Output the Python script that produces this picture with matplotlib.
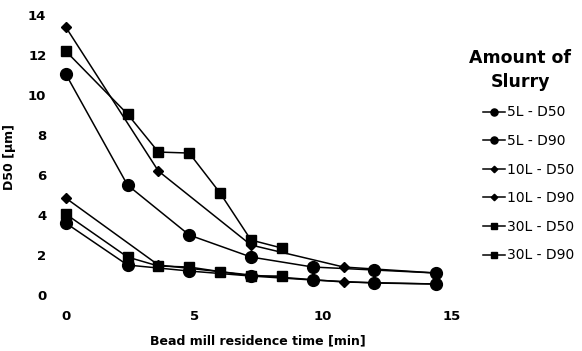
import numpy as np
import matplotlib
matplotlib.use('Agg')
import matplotlib.pyplot as plt

# residence times [min]
t_5L = [0, 2.4, 4.8, 7.2, 9.6, 12.0, 14.4]
t_10L = [0, 3.6, 7.2, 10.8, 14.4]
t_30L = [0, 2.4, 3.6, 4.8, 6.0, 7.2, 8.4]

# particle sizes [um]
d50_5L = [3.6, 1.5, 1.2, 0.95, 0.75, 0.6, 0.55]
d90_5L = [11.05, 5.5, 3.0, 1.9, 1.4, 1.25, 1.1]
d50_10L = [4.85, 1.5, 1.0, 0.65, 0.55]
d90_10L = [13.4, 6.2, 2.5, 1.4, 1.1]
d50_30L = [4.05, 1.9, 1.45, 1.4, 1.17, 0.95, 0.95]
d90_30L = [12.2, 9.05, 7.15, 7.1, 5.1, 2.75, 2.35]

series = [
    ('5L - D50', t_5L, d50_5L, 'o', 8.5),
    ('5L - D90', t_5L, d90_5L, 'o', 8.5),
    ('10L - D50', t_10L, d50_10L, 'D', 5.5),
    ('10L - D90', t_10L, d90_10L, 'D', 5.5),
    ('30L - D50', t_30L, d50_30L, 's', 7.5),
    ('30L - D90', t_30L, d90_30L, 's', 7.5),
]

fig = plt.figure(figsize=(5.82, 3.51), dpi=100)
ax = fig.add_axes([0.113, 0.1595, 0.663, 0.7975])

for name, t, d, m, ms in series:
    ax.plot(t, d, color='black', linewidth=1.1, marker=m, markersize=ms,
            label=name, clip_on=False)

ax.set_xlim(0, 15)
ax.set_ylim(0, 14)
ax.set_xticks([0, 5, 10, 15])
ax.set_yticks(np.arange(0, 15, 2))
for s in ax.spines.values():
    s.set_visible(False)
ax.tick_params(length=0, labelsize=9.5, pad=14)
ax.tick_params(axis='x', pad=11)
for lab in ax.get_xticklabels() + ax.get_yticklabels():
    lab.set_fontweight('bold')

fig.text(258 / 582, 1 - 341 / 351, 'Bead mill residence time [min]',
         fontsize=9, fontweight='bold', ha='center', va='center')
fig.text(10 / 582, 1 - 157 / 351, 'D50 [\u00b5m]', fontsize=9,
         fontweight='bold', rotation=90, ha='center', va='center')

fig.text(520 / 582, 1 - 70 / 351, 'Amount of\nSlurry', fontsize=12.5,
         fontweight='bold', ha='center', va='center', linespacing=1.4)

leg = ax.legend(loc='upper left', bbox_to_anchor=(1.066, 0.697), frameon=False,
                markerscale=0.6, handlelength=1.6, borderaxespad=0,
                handletextpad=0.15, labelspacing=1.05, fontsize=10)

fig.savefig('out.png', dpi=100)
